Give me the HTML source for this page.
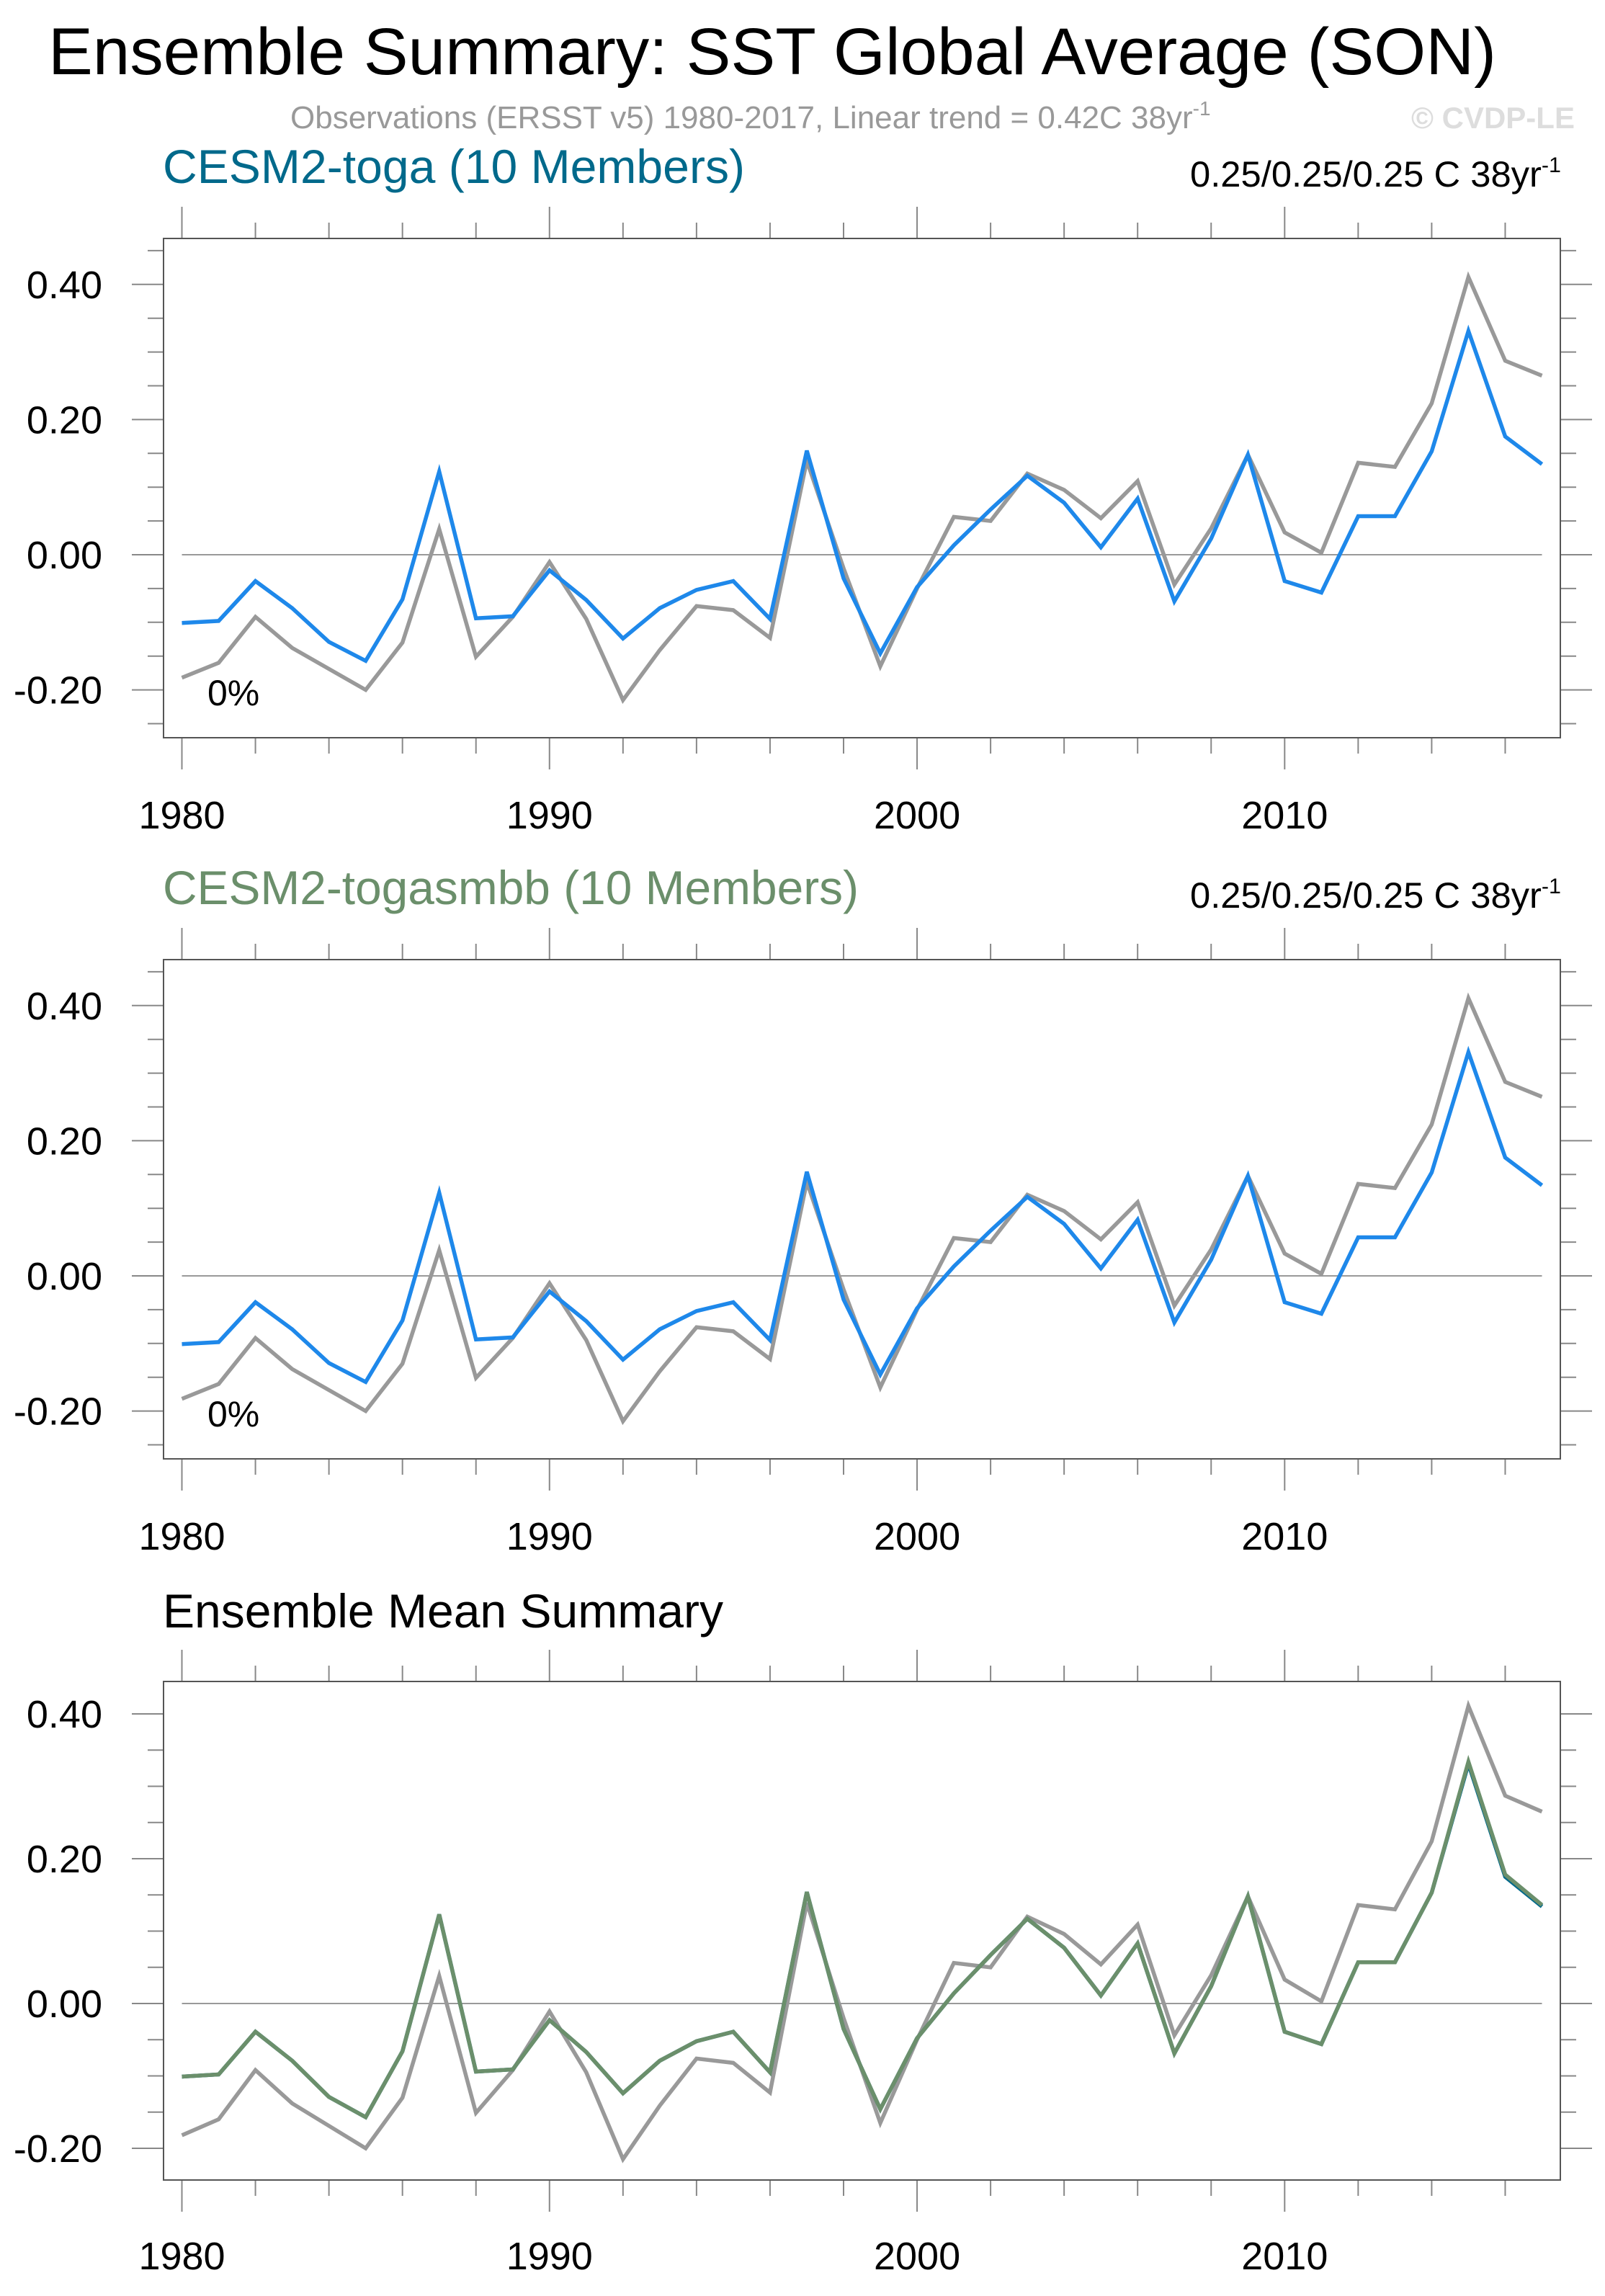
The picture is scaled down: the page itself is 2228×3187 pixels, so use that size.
<!DOCTYPE html>
<html><head><meta charset="utf-8"><style>
html,body{margin:0;padding:0;background:#fff;}
svg{display:block;font-family:"Liberation Sans",Arial,sans-serif;}
</style></head><body>
<svg id="chart" width="2228" height="3187" viewBox="0 0 2228 3187" xmlns="http://www.w3.org/2000/svg">
<rect width="2228" height="3187" fill="#fff"/>
<text x="67" y="103" font-size="92" fill="#000" textLength="2010" lengthAdjust="spacingAndGlyphs">Ensemble Summary: SST Global Average (SON)</text>
<text x="403" y="178" font-size="44" fill="#999">Observations (ERSST v5) 1980-2017, Linear trend = 0.42C 38yr<tspan dy="-18" font-size="28">-1</tspan></text>
<text x="1959" y="178" font-size="42" font-weight="bold" fill="#ddd">© CVDP-LE</text>
<g id="panels"></g>
</svg>
<script>
const years = [1980,1981,1982,1983,1984,1985,1986,1987,1988,1989,1990,1991,1992,1993,1994,1995,1996,1997,1998,1999,2000,2001,2002,2003,2004,2005,2006,2007,2008,2009,2010,2011,2012,2013,2014,2015,2016,2017];
const obsValues = [-0.182,-0.160,-0.092,-0.138,-0.169,-0.200,-0.130,0.038,-0.151,-0.092,-0.011,-0.095,-0.215,-0.141,-0.076,-0.082,-0.123,0.139,-0.020,-0.165,-0.050,0.056,0.050,0.120,0.096,0.054,0.109,-0.044,0.039,0.148,0.033,0.003,0.136,0.130,0.224,0.411,0.287,0.265];
const togaValues = [-0.101,-0.098,-0.039,-0.079,-0.129,-0.157,-0.066,0.123,-0.094,-0.091,-0.023,-0.067,-0.124,-0.079,-0.052,-0.039,-0.095,0.154,-0.035,-0.146,-0.048,0.014,0.067,0.117,0.077,0.011,0.083,-0.069,0.024,0.148,-0.039,-0.056,0.057,0.057,0.153,0.331,0.175,0.134];
const togasmbbValues = [-0.101,-0.098,-0.039,-0.079,-0.129,-0.157,-0.066,0.123,-0.094,-0.091,-0.023,-0.067,-0.124,-0.079,-0.052,-0.039,-0.095,0.154,-0.035,-0.146,-0.048,0.014,0.067,0.117,0.077,0.011,0.083,-0.069,0.024,0.148,-0.039,-0.056,0.057,0.057,0.153,0.334,0.178,0.136];
const yTickValues = [-0.2,0.0,0.2,0.4];
const yTickLabels = ["-0.20","0.00","0.20","0.40"];
const xTickYears = [1980,1990,2000,2010];
const xTickLabels = ["1980","1990","2000","2010"];

const NS = "http://www.w3.org/2000/svg";
const root = document.getElementById('panels');
function el(tag, attrs, parent, text){
  const e = document.createElementNS(NS, tag);
  for (const k in attrs) e.setAttribute(k, attrs[k]);
  if (text !== undefined) e.textContent = text;
  (parent||root).appendChild(e);
  return e;
}
const L = 227, R = 2166;
const xMin = 1979.5, xMax = 2017.5;
function xs(yr){ return L + (yr - xMin) / (xMax - xMin) * (R - L); }

const panels = [
  {top:331, bottom:1024, zero:770, per02:187.6, title:"CESM2-toga (10 Members)", titleColor:"#00698b", titleY:254, titleLen:808, showRight:true, showPct:true, lines:[{v:obsValues,c:"#999999",n:"obs"},{v:togaValues,c:"#1e88ea",n:"toga"}], yr:1150, key:"toga"},
  {top:1332, bottom:2025, zero:1771, per02:187.6, title:"CESM2-togasmbb (10 Members)", titleColor:"#6b8f6b", titleY:1255, titleLen:966, showRight:true, showPct:true, lines:[{v:obsValues,c:"#999999",n:"obs"},{v:togaValues,c:"#1e88ea",n:"toga"}], yr:2151, key:"togasmbb"},
  {top:2334, bottom:3026, zero:2781, per02:201, title:"Ensemble Mean Summary", titleColor:"#000", titleY:2259, titleLen:778, showRight:false, showPct:false, lines:[{v:obsValues,c:"#999999",n:"obs"},{v:togaValues,c:"#00698b",n:"toga-mean"},{v:togasmbbValues,c:"#6b8f6b",n:"togasmbb-mean"}], yr:3150, key:"ensemble-mean"}
];

panels.forEach(p => {
  const g = el('g', {});
  
  
  const ys = v => p.zero - v / 0.2 * p.per02;
  const t = el('text', {x:226, y:p.titleY, 'font-size':66, fill:p.titleColor, textLength:p.titleLen, lengthAdjust:'spacingAndGlyphs'}, g, p.title);
  
  
  if (p.showRight){
    const tr = el('text', {x:1652, y:p.titleY+5, 'font-size':50, fill:'#000', textLength:515, lengthAdjust:'spacingAndGlyphs'}, g);
    
    
    tr.innerHTML = '0.25/0.25/0.25 C 38yr<tspan dy="-20" font-size="30">-1</tspan>';
  }
  const yLo = (p.bottom - p.zero) / p.per02 * -0.2, yHi = (p.zero - p.top) / p.per02 * 0.2;
  for (let k = Math.ceil(yLo/0.05 - 1e-6); k <= Math.floor(yHi/0.05 + 1e-6); k++){
    const v = k*0.05, y = ys(v);
    const major = Math.abs(k % 4) === 0;
    const len = major ? 44 : 22;
    el('line', {x1:L-len, y1:y, x2:L, y2:y, stroke:'#888', 'stroke-width':2}, g);
    el('line', {x1:R, y1:y, x2:R+len, y2:y, stroke:'#888', 'stroke-width':2}, g);
  }
  yTickValues.forEach((v,i) => {
    const lb = el('text', {x:142, y:ys(v)+19, 'font-size':54, 'text-anchor':'end', fill:'#000'}, g, yTickLabels[i]);
    
    
  });
  for (let yr = 1980; yr <= 2016; yr += 2){
    const x = xs(yr), major = yr % 10 === 0, len = major ? 44 : 22;
    el('line', {x1:x, y1:p.top-len, x2:x, y2:p.top, stroke:'#888', 'stroke-width':2}, g);
    el('line', {x1:x, y1:p.bottom, x2:x, y2:p.bottom+len, stroke:'#888', 'stroke-width':2}, g);
  }
  xTickYears.forEach((yr,i) => {
    const lb = el('text', {x:xs(yr), y:p.yr, 'font-size':54, 'text-anchor':'middle', fill:'#000'}, g, xTickLabels[i]);
    
    
  });
  const zl = el('line', {x1:xs(years[0]), y1:ys(0), x2:xs(years[years.length-1]), y2:ys(0), stroke:'#999', 'stroke-width':2}, g);
  
  
  const fr = el('rect', {x:L, y:p.top, width:R-L, height:p.bottom-p.top, fill:'none', stroke:'#555', 'stroke-width':2}, g);
  
  
  p.lines.forEach(s => {
    const pts = years.map((yr,i) => xs(yr).toFixed(1) + ',' + ys(s.v[i]).toFixed(1)).join(' ');
    const pl = el('polyline', {points:pts, fill:'none', stroke:s.c, 'stroke-width':5.5, 'stroke-linejoin':'miter'}, g);
    
    
  });
  if (p.showPct){
    const pc = el('text', {x:288, y:p.zero+209, 'font-size':50, fill:'#000'}, g, '0%');
    
    
  }
});
</script>
</body></html>
